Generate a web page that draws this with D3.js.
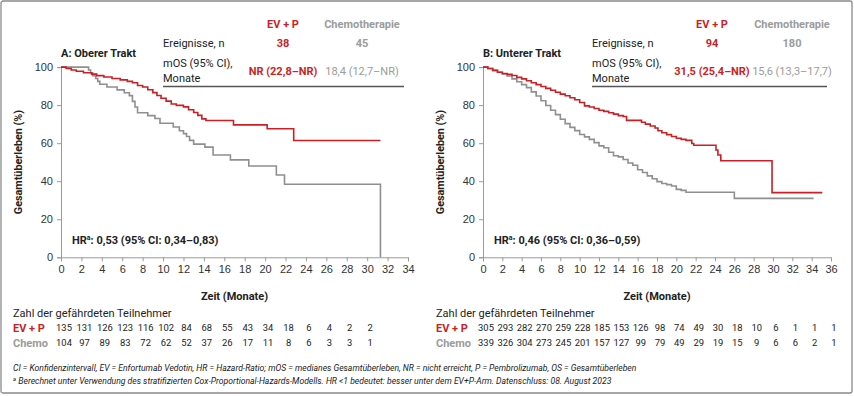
<html>
<head>
<meta charset="utf-8">
<script src="https://cdnjs.cloudflare.com/ajax/libs/d3/7.8.5/d3.min.js"></script>
<style>
  body { margin: 0; background: #fff; }
  svg { font-family: Roboto, "Noto Sans", sans-serif; }
  .tick text { font-size: 11px; fill: #333; }
  .axis path, .axis line { stroke: #9a9a9a; }
</style>
</head>
<body>
<div id="chart"></div>
<script>
// ---- data ----
const xTicksA = [0,2,4,6,8,10,12,14,16,18,20,22,24,26,28,30,32,34];
const xTicksB = [0,2,4,6,8,10,12,14,16,18,20,22,24,26,28,30,32,34,36];
const yTicks = [0,20,40,60,80,100];

// Kaplan-Meier steps [month, survival %]
const evpA = [[0,100],[0.5,99.3],[1,98.5],[1.5,97.8],[2.2,97],[3,96.3],[3.5,95.5],[4.2,94.8],[5,94],[5.8,93.3],
  [6.5,92.5],[7,91.8],[7.5,90.3],[8,89.5],[8.5,88.1],[9,86.6],[9.4,85.1],[9.8,83.6],[10.3,82.1],[10.8,80.6],
  [11.3,79.9],[12,79.1],[12.5,77.6],[13,76.1],[13.4,74.6],[13.8,72.8],[14.2,71.9],[16.9,69.6],[20.2,67.6],
  [22.8,61.4],[31.3,61.4]];
const chemoA = [[0,100],[2.7,98.5],[2.9,97],[3.1,95.5],[3.4,94],[3.6,92.5],[3.8,91],[4.5,89.5],[5.5,88],[6.2,86.5],
  [6.7,85],[7.0,82],[7.25,79],[7.5,76],[8.5,74.5],[9.2,73],[9.7,70.5],[11.0,68.5],[11.6,66.5],[12.0,65],
  [12.3,63.5],[12.6,61.5],[13.0,59.5],[14.1,57.9],[14.9,53.8],[16.6,51.2],[18.4,48],[21.1,43.3],[21.9,38.4],
  [31.3,0]];
const evpB = [[0,100],[0.5,99.3],[1,98.3],[1.5,97.3],[2,96.6],[2.5,96.2],[3,95.6],[3.5,94.6],[4,93.8],[4.5,92.8],
  [5,91.8],[5.5,90.8],[6,89.8],[6.5,88.8],[7,87.8],[7.5,86.8],[8,85.8],[8.5,84.9],[9,83.9],[9.5,82.8],[10,81.4],
  [10.5,79.6],[11,79],[11.5,78.2],[12,77.3],[12.5,76.7],[13,76],[13.5,75.3],[14,74.5],[14.5,74],[14.85,72],
  [16.4,71],[16.8,70],[17.3,69],[17.8,68],[18.1,66.5],[18.5,65.5],[19,64.5],[19.5,63.5],[20,62.6],[20.5,62],
  [21,61.5],[21.6,59.8],[21.8,58.9],[24.1,56.4],[24.3,53.8],[24.6,50.8],[29.9,34],[35.1,34]];
const chemoB = [[0,100],[0.5,99.3],[1,98.3],[1.5,97.3],[2,96.4],[2.5,95.3],[3,93.8],[3.5,92.3],[4,90.8],[4.5,89.2],
  [5,87],[5.5,84.8],[6,82.3],[6.5,79.8],[7,77.3],[7.5,75],[8,72.6],[8.5,70.3],[9,68.3],[9.5,66.6],[10,64.6],
  [10.5,63.3],[11,62],[11.5,60.3],[12,58.6],[12.5,57.6],[13,55.2],[13.5,53.4],[14,52.8],[14.5,51.4],[15,49.6],
  [15.5,48.4],[16,46],[16.5,44.6],[17,42.8],[17.5,41.3],[18,39.8],[18.5,38.8],[19,38.2],[19.5,37.5],[20,35.7],
  [20.5,35.2],[21,34.2],[26,31],[34.2,31]];

// numbers at risk
const riskEvpA = [135,131,126,123,116,102,84,68,55,43,34,18,6,4,2,2];
const riskChemoA = [104,97,89,83,72,62,52,37,26,17,11,8,6,3,3,1];
const riskEvpB = [305,293,282,270,259,228,185,153,126,98,74,49,30,18,10,6,1,1,1];
const riskChemoB = [339,326,304,273,245,201,157,127,99,79,49,29,19,15,9,6,6,2,1];

const RED = "#cc1f24", GREY = "#8f8f8f", GREYTXT = "#9b9b9b";

const W = 854, H = 396;
const svg = d3.select('#chart').append('svg').attr('width', W).attr('height', H);

svg.append('rect').attr('x',1).attr('y',1).attr('width',W-3).attr('height',H-4)
  .attr('rx',2).attr('fill','none').attr('stroke','#8a8a8a').attr('stroke-width',1.3);

function drawPanel(p){
  let x = d3.scaleLinear().domain([0, p.xmax]).range([p.x0, p.x1]);
  let y = d3.scaleLinear().domain([0,100]).range([257.3, 67.1]);
  let g = svg.append('g');

  g.append('g').attr('class','axis')
    .attr('transform','translate(0,257.3)')
    .call(d3.axisBottom(x).tickValues(p.xTicks).tickSize(4).tickPadding(4).tickFormat(d3.format('d')));
  g.append('g').attr('class','axis')
    .attr('transform','translate('+p.x0+',0)')
    .call(d3.axisLeft(y).tickValues(yTicks).tickSize(4).tickPadding(4));
  g.selectAll('.axis .domain').attr('stroke','#9a9a9a');

  let line = d3.line().x(d=>x(d[0])).y(d=>y(d[1])).curve(d3.curveStepAfter);
  g.append('path').datum(p.chemo).attr('d',line).attr('fill','none')
    .attr('stroke',GREY).attr('stroke-width',1.6);
  g.append('path').datum(p.evp).attr('d',line).attr('fill','none')
    .attr('stroke',RED).attr('stroke-width',1.6);

  // titles
  g.append('text').attr('x',p.x0).attr('y',57).text(p.title)
    .attr('font-size',11).attr('font-weight',700).attr('fill','#222');
  g.append('text').attr('transform','translate('+(p.x0-39)+',162) rotate(-90)')
    .attr('text-anchor','middle').attr('font-size',10.8).attr('font-weight',700).attr('fill','#222')
    .text('Gesamtüberleben (%)');
  g.append('text').attr('x',(p.x0+p.x1)/2).attr('y',300).attr('text-anchor','middle')
    .attr('font-size',11).attr('font-weight',700).attr('fill','#222').text('Zeit (Monate)');

  // HR
  let hr = g.append('text').attr('x',p.x0+11).attr('y',244)
    .attr('font-size',11).attr('font-weight',700).attr('fill','#222');
  hr.append('tspan').text('HR');
  hr.append('tspan').attr('dy',-4).attr('font-size',7).text('a');
  hr.append('tspan').attr('dy',4).text(': '+p.hr);

  // summary table
  let tx = p.tableX, c1 = p.col1, c2 = p.col2;
  g.append('text').attr('x',c1).attr('y',28).attr('text-anchor','middle')
    .attr('font-size',11).attr('font-weight',700).attr('fill',RED).text('EV + P');
  g.append('text').attr('x',c2).attr('y',28).attr('text-anchor','middle')
    .attr('font-size',11).attr('font-weight',700).attr('fill',GREYTXT).text('Chemotherapie');
  g.append('text').attr('x',tx).attr('y',47).attr('font-size',11).attr('fill','#222').text('Ereignisse, n');
  g.append('text').attr('x',c1).attr('y',47).attr('text-anchor','middle')
    .attr('font-size',11).attr('font-weight',700).attr('fill',RED).text(p.events[0]);
  g.append('text').attr('x',c2).attr('y',47).attr('text-anchor','middle')
    .attr('font-size',11).attr('font-weight',700).attr('fill',GREYTXT).text(p.events[1]);
  g.append('text').attr('x',tx).attr('y',67).attr('font-size',11).attr('fill','#222').text('mOS (95% CI),');
  g.append('text').attr('x',tx).attr('y',82).attr('font-size',11).attr('fill','#222').text('Monate');
  g.append('text').attr('x',c1).attr('y',75).attr('text-anchor','middle')
    .attr('font-size',11).attr('font-weight',700).attr('fill',RED).text(p.mos[0]);
  g.append('text').attr('x',c2).attr('y',75).attr('text-anchor','middle')
    .attr('font-size',11).attr('fill',GREYTXT).text(p.mos[1]);
  g.append('line').attr('x1',tx).attr('x2',p.x1-4).attr('y1',86.5).attr('y2',86.5)
    .attr('stroke','#555').attr('stroke-width',1.3);

  // numbers at risk
  g.append('text').attr('x',p.labelX).attr('y',317).attr('font-size',11).attr('fill','#222')
    .text('Zahl der gefährdeten Teilnehmer');
  g.append('text').attr('x',p.labelX).attr('y',332).attr('font-size',11).attr('font-weight',700)
    .attr('fill',RED).text('EV + P');
  g.append('text').attr('x',p.labelX).attr('y',347).attr('font-size',11).attr('font-weight',700)
    .attr('fill',GREYTXT).text('Chemo');
  g.selectAll('.rEvp').data(p.riskEvp).enter().append('text')
    .attr('x',(d,i)=>x(p.xTicks[i])+3).attr('y',331).attr('text-anchor','middle')
    .attr('font-size',9.4).attr('fill','#222').text(d=>d);
  g.selectAll('.rChemo').data(p.riskChemo).enter().append('text')
    .attr('x',(d,i)=>x(p.xTicks[i])+3).attr('y',346).attr('text-anchor','middle')
    .attr('font-size',9.4).attr('fill','#222').text(d=>d);
}

drawPanel({x0:61, x1:408, xmax:34, xTicks:xTicksA, evp:evpA, chemo:chemoA,
  title:'A: Oberer Trakt', hr:'0,53 (95% CI: 0,34–0,83)', tableX:163, col1:283, col2:362,
  events:['38','45'], mos:['NR (22,8–NR)','18,4 (12,7–NR)'], labelX:13,
  riskEvp:riskEvpA, riskChemo:riskChemoA});
drawPanel({x0:483, x1:831, xmax:36, xTicks:xTicksB, evp:evpB, chemo:chemoB,
  title:'B: Unterer Trakt', hr:'0,46 (95% CI: 0,36–0,59)', tableX:592, col1:712, col2:792,
  events:['94','180'], mos:['31,5 (25,4–NR)','15,6 (13,3–17,7)'], labelX:436,
  riskEvp:riskEvpB, riskChemo:riskChemoB});

// footnotes
svg.append('text').attr('x',13).attr('y',371).attr('font-size',8.6).attr('font-style','italic').attr('fill','#222')
  .text('CI = Konfidenzintervall, EV = Enfortumab Vedotin, HR = Hazard-Ratio; mOS = medianes Gesamtüberleben, NR = nicht erreicht, P = Pembrolizumab, OS = Gesamtüberleben');
let fn = svg.append('text').attr('x',13).attr('y',384).attr('font-size',8.6).attr('font-style','italic').attr('fill','#222');
fn.append('tspan').attr('font-size',6).attr('dy',-3).text('a');
fn.append('tspan').attr('dy',3).text(' Berechnet unter Verwendung des stratifizierten Cox-Proportional-Hazards-Modells. HR <1 bedeutet: besser unter dem EV+P-Arm. Datenschluss: 08. August 2023');
</script>
</body>
</html>
